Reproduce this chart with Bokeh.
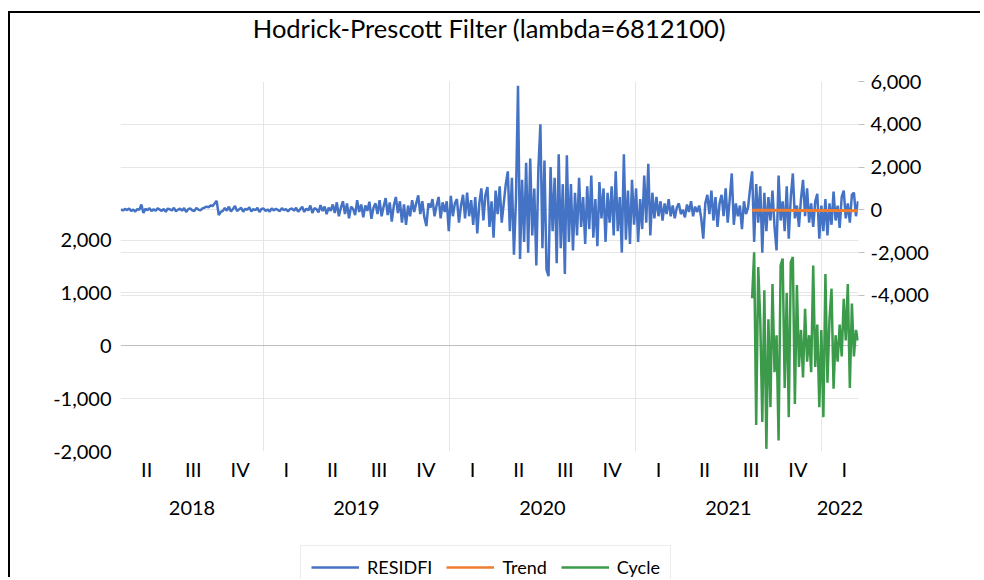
import pandas as pd
from bokeh.plotting import figure
from bokeh.layouts import column
from bokeh.models import (Range1d, LinearAxis, FixedTicker, NumeralTickFormatter,
                          Grid, Legend, LegendItem, Title)
from bokeh.embed import file_html
from bokeh.resources import INLINE

TITLE = "Hodrick-Prescott Filter (lambda=6812100)"

# RESIDFI (right axis), sampled every 4 days from 2018-03-27
RESIDFI = [
    20, -30, 40, -10, 60, -50, 10, -80, 30, 0,
    250, -150, 50, -20, 80, -60, 30, -40, 70, 10,
    -50, 40, -90, 60, 20, -30, 90, -70, 10, 50,
    -40, 80, -100, 30, 60, -20, -60, 90, 10, -30,
    70, 100, 150, 120, 200, 180, 300, 420, -250, -100,
    -50, 80, -40, 150, -80, 40, 180, -60, 20, 100,
    -90, 50, 0, 120, -70, 30, -20, 90, -100, 40,
    60, -50, 20, -80, 70, -30, 50, 0, -60, 80,
    -20, 40, -70, 30, 60, -40, 100, -90, 20, 150,
    -100, 60, -30, 200, -150, 80, 30, -120, 220, -60,
    150, -200, 100, -50,
    250, -150, 350, -300, 100, 400,
    -200, 300, -400, 150, 50, -250, 450, -100, 250, -350,
    200, -50, 380, -420, 100, 300, -200, 450, -300, 150,
    550, -250, 350, -550, 200, 600, -150, 400, -600, 250,
    -700, 200, -300, 450, -100, 300, 680, -200, 400, -350,
    -760, 300, 100, 500, -300, 200, 600, -400, 350, -100,
    400, -1000, 650, -300, 300, 500, -600, 200, 700, -400,
    800, -300, 450, -700, 600, -1100, 300, 1000, -500, 700,
    1070, -800, 400, -1300, 900, -200, 1100, -600, 300, 1200,
    1800, -1000, 1500, -2100, 500, 5800, -2300, 1400, -1500, 2200,
    -2000, 2400, -1200, 1000, -2600, 1900, 4000, -1800, 2300, -2800,
    -3100, 2000, -1000, 1500, -2500, 2600, -1800, 1200, -3000, 2550,
    -1500, 1200, -1900, 800, -1200, 1500, -800, 600, -1600, 1100,
    -900, 1600, -1300, 500, -1700, 1300, -400, 1000, -1500, 800,
    -600, 1100, -1200, 1800, -1000, 600, -2000, 2600, -1400, 900,
    -1600, 1400, -700, 1000, -1500, 500, -900, 1600, -600, 2150,
    -1200, 800, -400, 600, -300, 400, -500, 300, -200, 500,
    -300, 200, -400, 100, 300, -200, 0, -350, 250, -100,
    400, -300, 150, -100, 200, -400, -1350, 300, 700, -200,
    900, -500, 600, -800, 300, 700, -300, 1000, -600, 500,
    1700, -700, 300, -300, 200, -900, 400, -200, 100, 1000,
    1800, -1500, 1200, -600, 1100, -2000, 800, -1000, 600, -500,
    900, -800, -1900, 1600, -500, 400, -1000, 1100, -1350, 600,
    1700, -400, 200, -800, 500, 1400, -300, 1000, -600, 300,
    -800, 400, 750, -1350, 200, -1000, 500, -1200, 300, -700,
    850, -500, 200, -850, 600, 900, -400, 300, -600, 700,
    800, -300, 400,
]

# Cycle (left axis), every 4 days from 2021-08-18
CYCLE = [
    900, 1770, -1500, 1490, 480, -1440, 1050, -1950, 500, -1160,
    1170, -500, 200, -1790, 1520, 1650, -800, 1000, -1350, 1580,
    1680, -1100, 1150, -400, 300, -600, 700, -300, 200, -500,
    1520, -400, 400, -1160, 300, -1350, 1360, -700, 500, 1080,
    -810, 200, -300, 400, -200, 890, 100, 1170, -800, 800,
    -200, 300, 100,
]

# Trend (right axis), a few points over the same span
TREND = [-20, -25, -30, -35, -40]

RESID_START = "2018-03-27"
CYCLE_START = "2021-08-18"
TREND_END = "2022-03-14"
STEP = "4D"
X_START = "2018-03-26"
X_END = "2022-03-15"

QUARTER_LABELS = ["II", "III", "IV", "I", "II", "III", "IV", "I", "II", "III",
                  "IV", "I", "II", "III", "IV", "I"]
FIRST_QUARTER = "2018-04-01"
YEAR_LABELS = ["2018", "2019", "2020", "2021", "2022"]
LEFT_TICKS = [-2000, -1000, 0, 1000, 2000]
RIGHT_TICKS = [-4000, -2000, 0, 2000, 4000, 6000]
SERIES_NAMES = ["RESIDFI", "Trend", "Cycle"]
SERIES_COLORS = ["#4472C4", "#ED7D31", "#3C9A4B"]


def ms(t):
    return pd.Timestamp(t).value / 1e6


FONT = "Lato"
W = 972
H_MAIN, H_LEG = 527, 39

resid_dates = pd.date_range(RESID_START, periods=len(RESIDFI), freq=STEP)
cycle_dates = pd.date_range(CYCLE_START, periods=len(CYCLE), freq=STEP)
trend_dates = pd.date_range(CYCLE_START, TREND_END, periods=len(TREND))

p = figure(width=W, height=H_MAIN,
           x_range=Range1d(ms(X_START), ms(X_END)),
           y_range=Range1d(-2000, 5000),
           x_axis_type=None, y_axis_type=None,
           output_backend="svg", toolbar_location=None,
           min_border_left=110, min_border_right=124,
           min_border_top=68, min_border_bottom=89)
p.extra_y_ranges = {"right": Range1d(-11300, 6000)}
p.outline_line_color = None
p.background_fill_color = "white"
p.border_fill_color = "white"

# Title (with an empty spacer between it and the plot area)
p.add_layout(Title(text=" ", text_font_size="1px", standoff=39), "above")
p.add_layout(Title(text=TITLE, text_font=FONT, text_font_size="25.5px",
                   text_font_style="normal", text_color="black", align="center",
                   standoff=-6), "above")

# Grids
grid_col = "#e6e6e6"
p.add_layout(Grid(dimension=1, ticker=FixedTicker(ticks=[t for t in LEFT_TICKS if t != 0]),
                  grid_line_color=grid_col))
p.add_layout(Grid(dimension=1, ticker=FixedTicker(ticks=RIGHT_TICKS), y_range_name="right",
                  grid_line_color=grid_col))
year_bounds = [ms(f"{y}-01-01") for y in range(2019, 2023)]
p.add_layout(Grid(dimension=0, ticker=FixedTicker(ticks=year_bounds), grid_line_color=grid_col))
p.add_layout(Grid(dimension=1, ticker=FixedTicker(ticks=[0]), grid_line_color="#bfbfbf"))


def style_axis(ax, standoff):
    ax.axis_line_color = None
    ax.major_tick_line_color = None
    ax.minor_tick_line_color = None
    ax.major_tick_in = 0
    ax.major_tick_out = 0
    ax.major_label_text_font = FONT
    ax.major_label_text_font_size = "20px"
    ax.major_label_text_color = "black"
    ax.major_label_standoff = standoff


# Left axis
la = LinearAxis(ticker=FixedTicker(ticks=LEFT_TICKS), formatter=NumeralTickFormatter(format="0,0"))
style_axis(la, 9)
p.add_layout(la, "left")

# Right axis
ra = LinearAxis(y_range_name="right", ticker=FixedTicker(ticks=RIGHT_TICKS),
                formatter=NumeralTickFormatter(format="0,0"))
style_axis(ra, 6)
ra.major_tick_line_color = "#bfbfbf"
ra.major_tick_out = 6
p.add_layout(ra, "right")

# Quarter axis
qs = pd.date_range(FIRST_QUARTER, periods=len(QUARTER_LABELS) + 1, freq="QS")
q_centers = [(ms(a) + ms(b)) / 2 for a, b in zip(qs[:-1], qs[1:])]
qa = LinearAxis(ticker=FixedTicker(ticks=q_centers),
                major_label_overrides={c: l for c, l in zip(q_centers, QUARTER_LABELS)})
style_axis(qa, 5)
p.add_layout(qa, "below")

# Year axis
y_centers = []
for y in YEAR_LABELS:
    a = max(ms(f"{y}-01-01"), ms(X_START))
    b = min(ms(f"{int(y) + 1}-01-01"), ms(X_END))
    y_centers.append((a + b) / 2)
ya = LinearAxis(ticker=FixedTicker(ticks=y_centers),
                major_label_overrides={c: l for c, l in zip(y_centers, YEAR_LABELS)})
style_axis(ya, 17)
p.add_layout(ya, "below")

p.line(resid_dates, RESIDFI, line_color=SERIES_COLORS[0], line_width=2.5, y_range_name="right")
p.line(cycle_dates, CYCLE, line_color=SERIES_COLORS[2], line_width=2.5)
p.line(trend_dates, TREND, line_color=SERIES_COLORS[1], line_width=3, y_range_name="right")

# Legend strip below the chart (its frame is aligned with the chart's frame)
pl = figure(width=W, height=H_LEG, x_range=Range1d(0, 1), y_range=Range1d(0, 1),
            x_axis_type=None, y_axis_type=None, output_backend="svg", toolbar_location=None,
            min_border=0, min_border_left=0, min_border_right=0,
            min_border_top=0, min_border_bottom=0)
pl.outline_line_color = None
pl.background_fill_color = "white"
pl.border_fill_color = "white"
items = []
for name, col in zip(SERIES_NAMES, SERIES_COLORS):
    # legend-only renderer: no visible points
    rr = pl.line(x=[float("nan")], y=[float("nan")], line_color=col, line_width=2.5)
    items.append(LegendItem(label=name, renderers=[rr]))
legend = Legend(items=items, orientation="horizontal", location=(180, -10),
                glyph_width=48, glyph_height=20, label_standoff=8, spacing=14,
                padding=10, margin=0, border_line_color="#d9d9d9",
                label_text_font=FONT, label_text_font_size="18px",
                label_text_color="black", background_fill_alpha=1)
pl.add_layout(legend)

layout = column(p, pl, spacing=0,
                styles={"margin-left": "10px", "margin-top": "13px",
                        "box-shadow": "-2px -2px 0 0 black", "overflow": "hidden"})

open("out.html", "w").write(file_html(layout, INLINE))
